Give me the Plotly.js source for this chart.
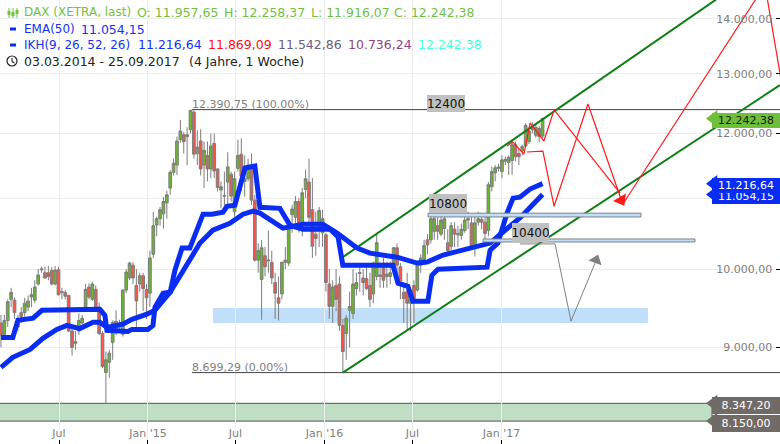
<!DOCTYPE html>
<html><head><meta charset="utf-8">
<script src="https://cdn.plot.ly/plotly-3.0.1.min.js"></script>
<style>html,body{margin:0;padding:0;background:#fff}#c{width:780px;height:444px}</style></head>
<body><div id="c"></div>
<script>
const openV=[9300,9160,9330,9600,9590,9330,9430,9430,9500,9630,
9590,9800,9990,9950,9950,9980,9800,9990,9700,9690,
9650,9200,9050,9200,9300,9480,9760,9600,9730,9500,
9170,8700,8820,9060,9220,9250,9160,9720,9880,10050,
9780,9800,9910,9730,9680,10200,10610,10700,10770,10930,
11150,11390,11500,11900,11980,11950,12060,12350,11680,11880,
11500,11650,11440,11840,11440,11120,11040,11240,11360,10800,
11450,11670,11290,11290,11500,10970,10120,9860,10180,10110,
10090,9820,9620,9670,10090,10080,10760,10720,10950,10650,
11130,11240,10830,10480,10590,10500,10470,9800,9510,9780,
9800,9270,9170,9460,9420,9740,9940,9880,9870,9780,
9670,9900,9900,10080,9930,9900,10040,10290,10030,9690,
9700,9550,9780,9720,10050,10130,10400,10400,10520,10600,
10480,10560,10360,10310,10550,10470,10460,10530,10680,10640,
10310,10650,10690,10650,10530,11170,11380,11450,11400,11560,
11540,11570,11820,11680,11720,11800,11870,12060,11970,12080,
11957.65];
const highV=[9400,9400,9600,9750,9620,9400,9500,9620,9650,9750,
9850,10000,10030,10030,10040,10030,10040,10030,9750,9720,
9660,9230,9200,9420,9400,9800,9810,9830,9780,9560,
9200,8950,8970,9330,9460,9340,9730,10000,10100,10093,
10000,9950,9950,9800,10250,10800,10730,10870,11020,11110,
11420,11600,11950,12220,12020,12100,12391,12380,12050,12070,
11870,11870,12000,12000,11450,11250,11400,11700,11400,11400,
11900,11920,11650,11600,11680,11050,10350,10400,10300,10530,
10250,9950,9900,10100,10300,10650,10900,11030,11000,11150,
11430,11600,11300,10800,10870,10830,10500,10000,9850,10000,
9900,9350,9400,9700,10000,9950,10050,10000,10080,9950,
10100,10480,10100,10150,10100,10100,10300,10350,10080,9800,
9950,9700,9850,10100,10200,10400,10480,10800,10802,10720,
10800,10780,10550,10650,10650,10600,10630,10760,10800,10760,
10750,10800,10770,10760,11240,11480,11500,11520,11650,11630,
11650,11900,11870,11760,11820,12170,12100,12180,12150,12120,
12258.37];
const lowV=[9000,9100,9250,9500,9350,9200,9300,9380,9450,9500,
9550,9780,9950,9870,9850,9780,9780,9650,9600,9600,
9190,8900,8970,9150,9280,9450,9600,9580,9450,9150,
8750,8347,8640,8850,9150,9200,9130,9680,9850,9800,
9200,9700,9450,9350,9500,10150,10450,10600,10560,10700,
11050,11340,11350,11850,11680,11500,12000,11600,11500,11340,
11150,11250,11300,11300,11100,10850,10830,10900,10950,10730,
11400,11100,11020,11250,10900,10100,9950,9340,9900,9950,
9800,9350,9330,9600,10000,10040,10500,10600,10500,10450,
11000,10650,10150,10180,10300,10300,9700,9350,9300,9450,
9200,8699.29,8850,9000,9350,9650,9700,9650,9720,9500,
9550,9850,9750,9750,9750,9800,9950,9900,9600,9300,
9200,9200,9300,9700,9950,10050,10200,10350,10400,10400,
10450,10400,10200,10250,10300,10300,10400,10500,10550,10260,
10170,10600,10550,10300,10450,11100,11250,11400,11300,11500,
11350,11350,11560,11500,11650,11780,11830,12000,11930,11860,
11916.07];
const closeV=[9150,9330,9570,9690,9430,9250,9380,9550,9580,9660,
9760,9920,10000,9880,9900,9800,9985,9660,9690,9640,
9200,9000,9070,9330,9360,9730,9630,9800,9480,9170,
8770,8850,8930,9310,9320,9280,9720,9960,10080,9880,
9580,9910,9740,9620,10150,10600,10700,10830,10950,11050,
11390,11530,11880,12040,11870,11980,12375,11670,11780,11440,
11730,11440,11800,11410,11160,11170,11030,11470,11030,11290,
11650,11330,11250,11500,10970,10120,10250,10290,10030,10120,
9880,9680,9550,10090,10120,10600,10840,10950,10570,11080,
11290,10720,10310,10420,10820,10700,9820,9510,9760,9600,
9270,8950,9360,9510,9800,9820,9950,9820,9740,9600,
10080,10360,9920,9850,9900,9950,10290,10050,9800,9610,
9550,9600,9610,10050,10150,10320,10330,10700,10700,10520,
10680,10700,10250,10600,10480,10490,10550,10680,10700,10280,
10640,10700,10650,10490,11200,11400,11460,11470,11580,11590,
11620,11820,11630,11630,11790,12130,12040,12100,12100,11950,
12242.38];

const emaWeeks=[0,3.5,8.6,12.4,16.5,19.5,23.3,27.2,29.2,31.3,36,38.7,43.1,45.5,50,55.2,58.8,62.6,67.6,71.5,74.5,76.5,79.5,83.3,89.2,95.1,99.3,105.2,109,117,122.9,125.9,130.6,138.5,144.5,148.3,153.3,160];
const emaValues=[8760,8880,8975,9110,9220,9270,9230,9310,9310,9245,9285,9345,9410,9460,9695,10080,10355,10536,10635,10765,10810,10780,10680,10565,10620,10620,10495,10285,10215,10160,10080,10095,10190,10285,10355,10510,10710,11054.15];
const ikhWeeks=[0,3.5,5,9.5,12.1,29.2,30.7,31.3,37.5,38.7,43.4,44.9,45.5,47.9,50,51.4,53.5,55.8,59.7,62.3,65.6,66.8,69.1,70.6,72.1,75,75.9,76.5,82.4,85.4,89.2,97.2,99.6,101,115.8,117.3,120.2,121.7,126.1,127.3,129.1,143.6,144.5,146.8,149.5,151.3,153.3,156.3,160];
const ikhValues=[9120,9120,9333,9360,9460,9473,9395,9208,9195,9220,9220,9270,9498,9680,9695,9985,10285,10285,10765,10765,10795,10880,10895,11165,11455,11485,11120,10865,10850,10605,10550,10550,10440,10050,10050,9810,9770,9575,9575,9915,9997,10025,10255,10355,10780,11000,11015,11135,11216.64];

const channelLowWeeks=[101,230.1], channelLowValues=[8699.29,12805];
const channelHighWeeks=[100.1,211.2], channelHighValues=[10132,14365];
const redAWeeks=[149.5,151.2,154.5,156.3,160.4,163.4,182.9];
const redAValues=[11799,11862,11670,12170,11878,12385,11075];
const redBWeeks=[155.4,160.1,163.4,173.4,183.7,225.7,231];
const redBValues=[11704,11719,10880,12485,10910,14650,12715];
const greyWeeks=[153.3,163.7,168.4,176.1];
const greyValues=[10343,10343,9322,10147];

const yTicks=[8000,9000,10000,11000,12000,13000,14000];
const yTickText=['8.000,00','9.000,00','10.000,00','11.000,00','12.000,00','13.000,00','14.000,00'];
const xTicks=['2014-07-01','2015-01-01','2015-07-01','2016-01-01','2016-07-01','2017-01-01'];
const xTickText=['Jul',"Jan '15",'Jul',"Jan '16",'Jul',"Jan '17"];

const FONT='"DejaVu Sans", sans-serif';
const t0=Date.UTC(2014,2,3);
const wk=i=>new Date(t0+i*7*864e5).toISOString().slice(0,19);
const px=x=>x/780, py=y=>1-y/444;
const dates=openV.map((_,i)=>wk(i));
const BLUE='#0a2df5', RED='#ff1a1a', GREEN='#0b7f14', GREY='#808080';

const line=(w,v,color,width)=>({type:'scatter',mode:'lines',x:w.map(wk),y:v,line:{color,width},hoverinfo:'skip'});
const traces=[
 {type:'candlestick',x:dates,open:openV,high:highV,low:lowV,close:closeV,whiskerwidth:0,
  increasing:{line:{color:'#7d7d7d',width:1},fillcolor:'#69b52c'},
  decreasing:{line:{color:'#7d7d7d',width:1},fillcolor:'#f0584e'},hoverinfo:'skip'},
 line([56.4,231],[12390.75,12390.75],'#444',1),
 line([56.4,231],[8699.29,8699.29],'#444',1),
 line(channelHighWeeks,channelHighValues,GREEN,2),
 line(channelLowWeeks,channelLowValues,GREEN,2),
 line(emaWeeks,emaValues,BLUE,5),
 line(ikhWeeks,ikhValues,BLUE,5),
 line(greyWeeks,greyValues,GREY,1),
 line(redAWeeks,redAValues,RED,1.2),
 line(redBWeeks,redBValues,RED,1.2),
 {type:'scatter',mode:'markers',x:[175.8].map(wk),y:[10121],marker:{symbol:'triangle-up',size:12,angle:20,color:GREY},hoverinfo:'skip'},
 {type:'scatter',mode:'markers',x:[183.2].map(wk),y:[10970],marker:{symbol:'triangle-down',size:13,angle:-30,color:RED},hoverinfo:'skip'},
 {type:'scatter',mode:'markers',x:[210.5,210.5,210.5,210.5,210.5].map(wk),y:[12242.38,11216.64,11054.15,8347.2,8150],
  marker:{symbol:'triangle-left',size:15,color:['#6fbf3a',BLUE,BLUE,'#716b68','#716b68']},hoverinfo:'skip'}
];

const ann=[];
const txt=(x,y,text,color,size,extra)=>ann.push(Object.assign({xref:'paper',yref:'paper',x:px(x),y:py(y),text,showarrow:false,xanchor:'left',yanchor:'middle',
  font:{family:FONT,size:size||12.5,color},borderpad:0,borderwidth:0},extra||{}));
const LG='#74c043';
txt(24,12.5,'DAX (XETRA, last)',LG,12);
txt(137,12.5,'O: 11.957,65',LG);
txt(224,12.5,'H: 12.258,37',LG);
txt(311,12.5,'L: 11.916,07',LG);
txt(394,12.5,'C: 12.242,38',LG);
txt(24,29,'EMA(50)','#1433f0',12);
txt(81,29,'11.054,15','#1433f0');
txt(24,45,'IKH(9, 26, 52, 26)','#1433f0',12);
txt(138,45,'11.216,64','#1433f0');
txt(208,45,'11.869,09','#ff1010');
txt(278,45,'11.542,86','#6b6080');
txt(348,45,'10.736,24','#8f4488');
txt(418,45,'12.242,38','#45ffd5');
txt(24,61,'03.03.2014 - 25.09.2017','#222');
txt(189,61,'(4 Jahre, 1 Woche)','#222');
txt(192,104,'12.390,75 (100.00%)','#808080',11);
txt(192,367,'8.699,29 (0.00%)','#808080',11);

const lab=(x0,x1,y0,y1,t)=>ann.push({xref:'paper',yref:'paper',x:px((x0+x1)/2),y:py((y0+y1)/2),text:t,showarrow:false,xanchor:'center',yanchor:'middle',
  width:x1-x0,height:y1-y0,bgcolor:'#c0c0c0',borderpad:0,borderwidth:0,font:{family:FONT,size:12,color:'#111'}});
lab(427,465,95,112,'12400');
lab(429,467,194,213,'10800');
lab(512,549,223,242,'10400');

const tag=(v,t,bg,fg,h)=>ann.push({xref:'paper',yref:'y',x:1,y:Math.log10(v),text:t,showarrow:false,xanchor:'right',yanchor:'middle',
  width:68,height:h,bgcolor:bg,borderpad:0,borderwidth:0,align:'center',font:{family:FONT,size:11,color:fg},yshift:-2});
tag(12242.38,'12.242,38','#6fbf3a','#10200a',15);
tag(11054.15,'11.054,15',BLUE,'#fff',15);
tag(11216.64,'11.216,64',BLUE,'#fff',15);
tag(8347.2,'8.347,20','#716b68','#fff',17);
tag(8150,'8.150,00','#716b68','#fff',17);

const rect=(x0,x1,y0,y1,fill,lc,lw,layer)=>({type:'rect',xref:'paper',yref:'y',x0:px(x0),x1:px(x1),y0,y1,fillcolor:fill,line:{color:lc,width:lw},layer:layer||'below'});
const pRect=(x0,x1,y0,y1,fill)=>({type:'rect',xref:'paper',yref:'paper',x0:px(x0),x1:px(x1),y0:py(y0),y1:py(y1),fillcolor:fill,line:{width:0},layer:'above'});
const pLine=(x0,y0,x1,y1,c,w)=>({type:'line',xref:'paper',yref:'paper',x0:px(x0),x1:px(x1),y0:py(y0),y1:py(y1),line:{color:c,width:w||1},layer:'above'});
const shapes=[
 rect(-5,712,8150,8347.2,'rgba(130,190,135,0.5)','#555',1),
 rect(213,648,9300,9490,'#bfdffb','rgba(0,0,0,0)',0),
 rect(428,641,10725,10780,'#bfdffb','#808080',1,'above'),
 rect(483,695,10370,10412,'#bfdffb','#808080',1,'above'),
 pRect(10,16,27.5,30.5,BLUE),
 pRect(10,16,43.5,46.5,BLUE),
 pLine(9,8,9,18,LG), pLine(13,8,13,18,LG), pLine(17,8,17,18,LG),
 pRect(7.5,10.5,11,15,LG), pRect(11.5,14.5,12,16,LG), pRect(15.5,18.5,10,14,LG),
 {type:'circle',xref:'paper',yref:'paper',x0:px(7),x1:px(17),y0:py(56),y1:py(66),line:{color:'#222',width:1.2},layer:'above'},
 pLine(12,58,12,61.5,'#222',1.1), pLine(12,61.5,14.5,63,'#222',1.1)
];

const layout={width:780,height:444,margin:{l:0,r:0,t:0,b:0},paper_bgcolor:'#fff',plot_bgcolor:'#fff',showlegend:false,hovermode:false,boxgap:0.2,boxgroupgap:0,
 xaxis:{type:'date',range:['2014-03-01','2018-07-31'],rangeslider:{visible:false},tickmode:'array',tickvals:xTicks,ticktext:xTickText,
  ticklabelposition:'inside',ticks:'inside',ticklen:4,tickcolor:'#000',showgrid:true,gridcolor:'#ececec',gridwidth:1,zeroline:false,showline:false,
  tickfont:{family:FONT,size:11,color:'#808080'}},
 yaxis:{type:'log',side:'right',range:[3.89778,4.15713],tickmode:'array',tickvals:yTicks,ticktext:yTickText,
  ticklabelposition:'inside',ticks:'inside',ticklen:4,tickcolor:'#000',ticklabelstandoff:3,showgrid:true,gridcolor:'#ececec',gridwidth:1,zeroline:false,showline:false,
  tickfont:{family:FONT,size:11,color:'#808080'}},
 annotations:ann,shapes};
Plotly.newPlot('c',traces,layout,{staticPlot:true,displayModeBar:false});
</script></body></html>
